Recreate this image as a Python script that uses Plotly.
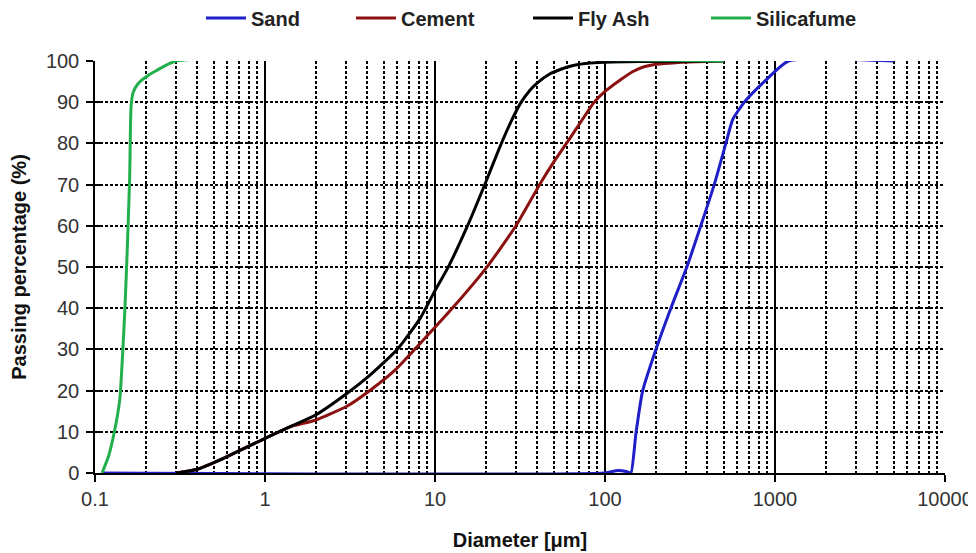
import plotly.graph_objects as go

# ---- data ----
sand_d = [0.11, 100, 119, 135, 142, 152, 166, 199, 244, 303, 366, 439, 514, 564, 659, 865, 1200, 5000]
sand_p = [0, 0, 0.6, 0.3, 0, 9.6, 19.7, 29.9, 40, 50, 60, 70, 80, 85.8, 90, 95, 100, 100]

cement_d = [0.30, 0.40, 0.54, 1.0, 1.4, 1.97, 3.03, 4.16, 5.97, 8.2, 12.9, 20.3, 29.8, 41.8, 50, 60,
            72, 86, 100, 124, 145, 170, 200, 260, 350, 500]
cement_p = [0, 0.9, 3.1, 8.4, 11.2, 12.8, 16.2, 20.1, 25.4, 31.5, 40.4, 50.1, 59.9, 70.4, 75.5, 80.3,
            85.2, 89.9, 92.6, 95.5, 97.4, 98.6, 99.2, 99.6, 99.8, 100]

flyash_d = [0.30, 0.40, 0.54, 1.0, 1.4, 1.97, 3.03, 4.16, 5.97, 8.2, 9.8, 12.0, 15.5, 19.8, 24,
            28, 32, 36, 40, 47, 55, 65, 82, 110, 160, 500]
flyash_p = [0, 0.9, 3.1, 8.4, 11.2, 14.0, 19.3, 23.8, 29.9, 37.6, 43.6, 50.1, 59.9, 70.4, 79.0,
            85.3, 89.9, 92.8, 94.7, 96.8, 98.0, 98.9, 99.5, 99.75, 99.9, 100]

silica_d = [0.11, 0.12, 0.13, 0.14, 0.145, 0.15, 0.155, 0.16, 0.163, 0.168, 0.18, 0.20, 0.23, 0.30, 500]
silica_p = [0, 4, 10, 18, 28, 40, 55, 72, 89, 92.5, 94.6, 96.2, 97.7, 100, 100]

series = [
    ("Sand", sand_d, sand_p, "#1f1fc8"),
    ("Cement", cement_d, cement_p, "#8b1010"),
    ("Fly Ash", flyash_d, flyash_p, "#000000"),
    ("Silicafume", silica_d, silica_p, "#22b04c"),
]

x_major = [0.1, 1, 10, 100, 1000, 10000]
x_labels = ["0.1", "1", "10", "100", "1000", "10000"]
x_minor = [m * 10 ** e for e in range(-1, 4) for m in range(2, 10)]
y_ticks = list(range(0, 101, 10))

# legend text start positions (pixels, page) in the reference
legend_text_px = [250, 400, 577, 755]

OFF = 8  # page body margin
W, H = 976, 553
L = 95 - OFF
T = 61 - OFF
PW = 850
PH = 412
R = W - L - PW
B = H - T - PH

fig = go.Figure()
for i, (name, d, p, c) in enumerate(series):
    lg = "legend" if i == 0 else f"legend{i + 1}"
    fig.add_trace(go.Scatter(x=d, y=p, mode="lines", name=name, legend=lg,
                             line=dict(color=c, width=3, shape="spline", smoothing=0.5)))

# empty helper trace so the overlay axis (inside tick marks) is drawn
fig.add_trace(go.Scatter(x=[], y=[], yaxis="y2", showlegend=False, hoverinfo="skip"))

font_fam = "Liberation Sans, Arial, sans-serif"
legend_center_fig_y = 18 - OFF
layout_legends = {}
for i, px in enumerate(legend_text_px):
    key = "legend" if i == 0 else f"legend{i + 1}"
    layout_legends[key] = dict(
        x=(px - OFF - 49 - L) / PW, xanchor="left", xref="paper",
        y=1 - legend_center_fig_y / H, yanchor="middle", yref="container",
        orientation="h", font=dict(size=20, color="#222", family=font_fam, weight="bold"),
        itemwidth=40, bgcolor="rgba(0,0,0,0)", borderwidth=0,
    )

fig.update_layout(
    width=W, height=H,
    margin=dict(l=L, r=R, t=T, b=B, autoexpand=False),
    paper_bgcolor="white", plot_bgcolor="white",
    font=dict(family=font_fam, size=20, color="#333"),
    showlegend=True,
    **layout_legends,
)

fig.update_xaxes(
    type="log", range=[-1, 4], automargin=False,
    tickmode="array", tickvals=x_major, ticktext=x_labels,
    tickfont=dict(size=20, color="#333"),
    showgrid=True, gridcolor="black", gridwidth=1.5,
    showline=True, linecolor="black", linewidth=1.5,
    ticks="outside", ticklen=7, tickcolor="black", tickwidth=1.5,
    minor=dict(tickmode="array", tickvals=x_minor, showgrid=True, gridcolor="black",
               gridwidth=1.5, griddash="3px,2px", ticks=""),
    title=dict(text="<b>Diameter [μm]</b>", font=dict(size=20, color="#111"), standoff=24),
    zeroline=False,
)
fig.update_layout(yaxis=dict(
    range=[0, 100], tickmode="array", tickvals=y_ticks, automargin=False,
    tickfont=dict(size=20, color="#333"), ticklabelstandoff=3,
    showgrid=True, gridcolor="black", gridwidth=1.5, griddash="3px,2px",
    showline=True, linecolor="black", linewidth=1.5,
    ticks="outside", ticklen=7, tickcolor="black", tickwidth=1.5,
    title=dict(text="<b>Passing percentage (%)</b>", font=dict(size=20, color="#111"), standoff=14),
    zeroline=False,
), yaxis2=dict(
    range=[0, 100], overlaying="y", anchor="x", side="left", tickmode="array", tickvals=y_ticks,
    showticklabels=False, showgrid=False, zeroline=False, automargin=False,
    ticks="inside", ticklen=6, tickcolor="black", tickwidth=1.5, showline=False,
))

fig.write_html("out.html")
